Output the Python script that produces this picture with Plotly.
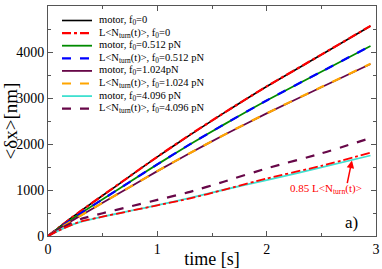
import plotly.graph_objects as go

# ---- data ----
t = [0, 0.1, 0.2, 0.3, 0.5, 0.75, 1.0, 1.3, 1.6, 2.0, 2.5, 2.95]

motor_f0 = [0, 190, 370, 545, 880, 1300, 1720, 2200, 2660, 3250, 3940, 4565]
L_f0 = [0, 185, 368, 545, 882, 1302, 1722, 2203, 2662, 3252, 3942, 4568]
motor_f0512 = [0, 172, 335, 493, 797, 1177, 1557, 1995, 2410, 2945, 3570, 4130]
L_f0512 = [0, 170, 334, 493, 798, 1178, 1558, 1996, 2412, 2947, 3572, 4133]
motor_f1024 = [0, 156, 303, 447, 722, 1066, 1410, 1805, 2185, 2665, 3235, 3740]
L_f1024 = [0, 154, 302, 447, 723, 1067, 1411, 1806, 2186, 2667, 3237, 3743]
motor_f4096 = [0, 120, 225, 305, 420, 545, 670, 830, 1000, 1215, 1490, 1750]
L_f4096 = [0, 140, 265, 370, 495, 640, 785, 960, 1175, 1470, 1795, 2130]
scale_factor = 0.85
L_f4096_scaled = [scale_factor * v for v in L_f4096]

names = [
    "motor, f<sub>0</sub>=0",
    "L&lt;N<sub>turn</sub>(t)&gt;, f<sub>0</sub>=0",
    "motor, f<sub>0</sub>=0.512 pN",
    "L&lt;N<sub>turn</sub>(t)&gt;, f<sub>0</sub>=0.512 pN",
    "motor, f<sub>0</sub>=1.024pN",
    "L&lt;N<sub>turn</sub>(t)&gt;, f<sub>0</sub>=1.024 pN",
    "motor, f<sub>0</sub>=4.096 pN",
    "L&lt;N<sub>turn</sub>(t)&gt;, f<sub>0</sub>=4.096 pN",
]
series = [motor_f0, L_f0, motor_f0512, L_f0512, motor_f1024, L_f1024, motor_f4096, L_f4096]
colors = ["#000000", "#ff0000", "#008b00", "#0000ff", "#670748", "#ffa500", "#40e0d0", "#670748"]
dashes = ["solid", "dashdot", "solid", "dash", "solid", "dash", "solid", "dash"]
widths = [1.6, 2.2, 1.8, 2.2, 1.8, 2.2, 1.8, 2.2]

FONT = "Liberation Serif"

fig = go.Figure()
for y, n, c, d, w in zip(series, names, colors, dashes, widths):
    fig.add_trace(go.Scatter(x=t, y=y, mode="lines", name=n, showlegend=False,
                             line=dict(color=c, dash=d, width=w, shape="spline", smoothing=0.6)))
fig.add_trace(go.Scatter(x=t, y=L_f4096_scaled, mode="lines", showlegend=False,
                         line=dict(color="#ff0000", dash="dashdot", width=1.8,
                                   shape="spline", smoothing=0.6)))

# ---- hand-drawn legend (compact spacing like the reference) ----
W, H = 382, 269
ml, mr, mt, mb = 48, 6, 6, 33
pw, ph = W - ml - mr, H - mt - mb
def px2x(px):
    return (px - ml) / pw
def py2y(py):
    return (H - mb - py) / ph

row0, step = 20.5, 12.6
shapes = []
annotations = []
for i, (n, c, d, w) in enumerate(zip(names, colors, dashes, widths)):
    yy = py2y(row0 + i * step)
    shapes.append(dict(type="line", xref="paper", yref="paper",
                       x0=px2x(62), x1=px2x(92), y0=yy, y1=yy,
                       line=dict(color=c, dash=d, width=w)))
    annotations.append(dict(xref="paper", yref="paper", x=px2x(98), y=yy,
                            text=n, showarrow=False, xanchor="left", yanchor="middle",
                            borderpad=0,
                            font=dict(family=FONT, size=10.5, color="#000000")))

# arrow + label
annotations.append(dict(x=2.78, y=1640, xref="x", yref="y", text="",
                        showarrow=True, arrowhead=2, arrowsize=1, arrowwidth=1.5,
                        arrowcolor="#ff0000", ax=-5, ay=24))
annotations.append(dict(x=px2x(289), y=py2y(189), xref="paper", yref="paper",
                        xanchor="left", yanchor="middle", borderpad=0,
                        text="0.85 L&lt;N<sub>turn</sub>(t)&gt;", showarrow=False,
                        font=dict(family=FONT, size=11, color="#ff0000")))
annotations.append(dict(x=px2x(344), y=py2y(222), xref="paper", yref="paper",
                        xanchor="left", yanchor="middle", borderpad=0,
                        text="a)", showarrow=False,
                        font=dict(family=FONT, size=17, color="#000000")))

axis_common = dict(showline=True, linecolor="#555555", linewidth=1, mirror="ticks",
                   ticks="inside", ticklen=5, tickcolor="#555555", showgrid=False,
                   zeroline=False, automargin=False,
                   tickfont=dict(family=FONT, size=14, color="#000000"))

fig.update_layout(
    width=W, height=H,
    margin=dict(l=ml, r=mr, t=mt, b=mb),
    paper_bgcolor="white", plot_bgcolor="white",
    shapes=shapes, annotations=annotations,
    xaxis=dict(range=[0, 3], dtick=1, tick0=0,
               minor=dict(ticks="inside", ticklen=3, dtick=0.5, tickcolor="#555555"),
               title=dict(text="time [s]", font=dict(family=FONT, size=18, color="#000000"),
                          standoff=0),
               **axis_common),
    yaxis=dict(range=[0, 5000], dtick=1000, tick0=0,
               minor=dict(ticks="inside", ticklen=3, dtick=500, tickcolor="#555555"),
               title=dict(text="&lt;δx&gt;[nm]", font=dict(family=FONT, size=19, color="#000000"),
                          standoff=0),
               **axis_common),
)

fig.write_html("out.html", config={"displayModeBar": False},
               post_script="document.body.style.margin='0';")
